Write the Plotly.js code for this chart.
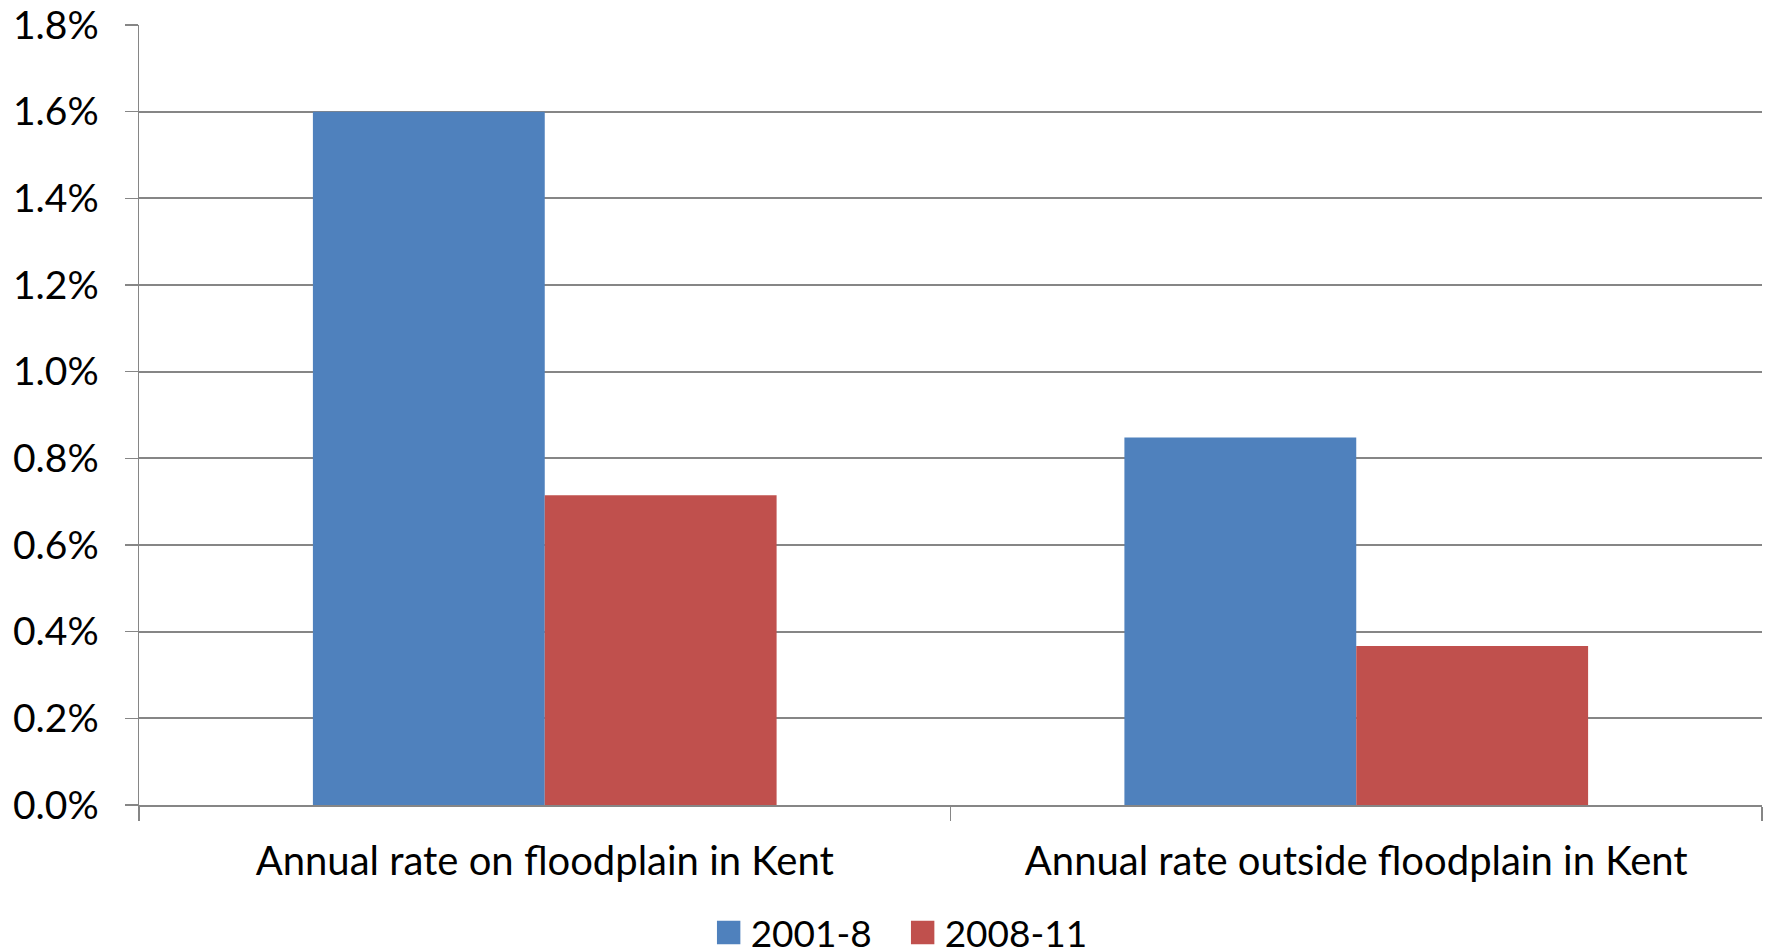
<!DOCTYPE html>
<html>
<head>
<meta charset="utf-8">
<script src="https://cdn.plot.ly/plotly-3.0.1.min.js"></script>
<style>
  html, body { margin: 0; padding: 0; background: #fff; }
  #chart { width: 1766px; height: 951px; }
</style>
</head>
<body>
<div id="chart"></div>
<script>
// Annual rates of development, Kent, by period
const categories = ['Annual rate on floodplain in Kent', 'Annual rate outside floodplain in Kent'];
const seriesNames = ['2001-8', '2008-11'];
const rate2001to8 = [0.0160, 0.00848];
const rate2008to11 = [0.00715, 0.00367];
const seriesColors = ['#4F81BD', '#C0504D'];

const FONT = 'Lato, "Open Sans", sans-serif';
const GRID = '#868686';

const traces = [rate2001to8, rate2008to11].map((vals, i) => ({
  type: 'bar',
  name: seriesNames[i],
  x: categories,
  y: vals,
  marker: { color: seriesColors[i], line: { width: 0 } },
  hoverinfo: 'skip'
}));

const layout = {
  width: 1766,
  height: 951,
  margin: { l: 138.5, r: 4, t: 25, b: 146, pad: 0 },
  paper_bgcolor: '#ffffff',
  plot_bgcolor: '#ffffff',
  font: { family: FONT, size: 39, color: '#000000' },
  barmode: 'group',
  bargap: 0.4286,
  bargroupgap: 0,
  showlegend: true,
  legend: {
    orientation: 'h',
    xref: 'container',
    yref: 'container',
    x: 0.51,
    xanchor: 'center',
    y: 0.019,
    yanchor: 'middle',
    font: { family: FONT, size: 37, color: '#000' },
    itemwidth: 34,
    entrywidth: 145,
    tracegroupgap: 0,
    bgcolor: 'rgba(0,0,0,0)'
  },
  xaxis: {
    type: 'category',
    showline: true,
    linecolor: GRID,
    linewidth: 2,
    ticks: 'outside',
    tickson: 'boundaries',
    ticklen: 14,
    tickwidth: 1.5,
    tickcolor: GRID,
    showgrid: false,
    zeroline: false,
    ticklabelstandoff: 20,
    tickfont: { family: FONT, size: 40, color: '#000' },
    fixedrange: true
  },
  yaxis: {
    range: [0, 0.018],
    dtick: 0.002,
    tick0: 0,
    tickformat: '.1%',
    showline: true,
    linecolor: GRID,
    linewidth: 1.5,
    ticks: 'outside',
    ticklen: 13,
    tickwidth: 1.5,
    tickcolor: GRID,
    showgrid: true,
    gridcolor: GRID,
    gridwidth: 1.8,
    zeroline: false,
    ticklabelstandoff: 18,
    tickfont: { family: FONT, size: 39, color: '#000' },
    fixedrange: true
  }
};

Plotly.newPlot('chart', traces, layout, { displayModeBar: false, staticPlot: true }).then(gd => {
  // enlarge the legend swatches to suit the large legend text, keeping their position
  gd.querySelectorAll('.legendpoints path').forEach(p => {
    const t = p.getAttribute('transform') || '';
    p.setAttribute('transform', (t + ' scale(1.95)').trim());
  });
});
</script>
</body>
</html>
